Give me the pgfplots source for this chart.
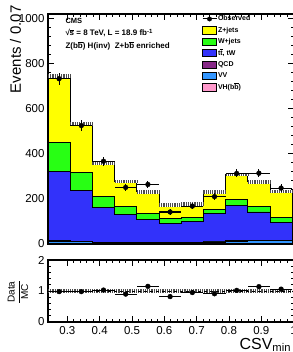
\documentclass[border=0pt]{standalone}
\usepackage{fontspec}
\setmainfont{Liberation Sans}
\usepackage{pgfplots}
\pgfplotsset{compat=1.18}
\usepackage{pgfplotstable}

\definecolor{zjets}{RGB}{255,255,0}
\definecolor{wjets}{RGB}{40,255,20}
\definecolor{ttbar}{RGB}{50,50,250}
\definecolor{qcd}{RGB}{135,40,135}
\definecolor{vv}{RGB}{50,150,255}
\definecolor{vh}{RGB}{255,153,204}

\newcommand{\bbar}{$\overline{\mbox{b}}$}
\newcommand{\tbar}{$\overline{\mbox{t}}$}

% cumulative stack tops, left bin edges (last row = right edge)
\pgfplotstableread{
x      vh  vv  qcd tt  w   z
0.2400 1   13  15  323 450 745
0.3087 1   11  13  239 318 533
0.3774 1   6   8   164 210 357
0.4461 1   5   7   129 166 277
0.5148 1   5   6   110 136 231
0.5835 1   5   6   92  114 174
0.6522 1   6   7   98  117 178
0.7209 1   9   10  134 154 231
0.7896 1   13  14  172 198 308
0.8583 1   14  15  142 166 276
0.9270 1   16  17  95  117 233
0.9957 1   16  17  95  117 233
}\stack

\pgfplotstableread{
x       y   ex      ey  r    er
0.27435 733 0.03435 27  0.98 0.036
0.34305 525 0.03435 23  0.98 0.043
0.41175 367 0.03435 19  1.03 0.053
0.48045 251 0.03435 16  0.90 0.058
0.54915 264 0.03435 16  1.15 0.069
0.61785 142 0.03435 12  0.82 0.069
0.68655 168 0.03435 13  0.95 0.073
0.75525 210 0.03435 14  0.91 0.063
0.82395 313 0.03435 18  1.02 0.058
0.89265 314 0.03435 18  1.14 0.065
0.96135 248 0.03435 16  1.06 0.069
}\obs

\pgfplotsset{
  cms/.style={
    scale only axis, width=245.6pt,
    xmin=0.24, xmax=1.0,
    clip mode=individual,
    xtick={0.3,0.4,0.5,0.6,0.7,0.8,0.9,1.0},
    minor x tick num=4,
    tick align=inside, major tick length=6pt, minor tick length=3pt,
    every tick/.style={black, line width=0.8pt},
    axis line style={line width=1.1pt},
    /pgf/number format/assume math mode=true,
    /pgf/number format/1000 sep={},
    ticklabel style={font=\fontsize{11.5}{12}\selectfont},
  },
  stk/.style={const plot, draw=black, line width=0.9pt},
}

\begin{document}
\begin{tikzpicture}
\begin{axis}[cms, name=main, at={(0pt,0pt)}, anchor=north west,
  height=230pt, ymin=0, ymax=1020,
  xticklabels={},
  ytick={0,200,400,600,800,1000}, minor y tick num=4,
  legend style={at={(0,1)}, anchor=north west, xshift=154pt, yshift=-0.5pt,
    draw=none, fill=none, inner sep=0pt, outer sep=0pt,
    font=\fontsize{7}{8}\selectfont\bfseries, row sep=2.4pt,
    nodes={inner sep=1pt, text height=5.5pt, text depth=1.5pt}},
  legend cell align=left,
  legend image code/.code={\draw[#1, draw=black, line width=0.8pt] (0pt,-3.6pt) rectangle (14pt,3.6pt);},
]
\addlegendimage{legend image code/.code={\draw[black, line width=1pt] (0pt,0pt) -- (14pt,0pt); \fill[black] (7pt,0pt) circle (2.2pt);}}
\addlegendentry{Observed}
\addplot[stk, fill=zjets] table[x=x, y=z]{\stack} \closedcycle;
\addlegendentry{Z+jets}
\addplot[stk, fill=wjets] table[x=x, y=w]{\stack} \closedcycle;
\addlegendentry{W+jets}
\addplot[stk, fill=ttbar] table[x=x, y=tt]{\stack} \closedcycle;
\addlegendentry{t\tbar, tW}
\addplot[stk, fill=qcd] table[x=x, y=qcd]{\stack} \closedcycle;
\addlegendentry{QCD}
\addplot[stk, fill=vv] table[x=x, y=vv]{\stack} \closedcycle;
\addlegendentry{VV}
\addplot[stk, fill=vh] table[x=x, y=vh]{\stack} \closedcycle;
\addlegendentry{VH(b\bbar)}
% uncertainty band on total
\addplot[forget plot, jump mark left, white, line width=3.6pt] table[x=x, y=z]{\stack};
\addplot[forget plot, jump mark left, black!70, line width=3.6pt, dash pattern=on 1.1pt off 1.1pt] table[x=x, y=z]{\stack};
% observed
\addplot[forget plot, only marks, mark=*, mark size=2.4pt, black,
  error bars/.cd, x dir=both, x explicit, y dir=both, y explicit,
  error mark=none, error bar style={line width=1.1pt}]
  table[x=x, y=y, x error=ex, y error=ey]{\obs};
\node[anchor=base west, font=\fontsize{7.5}{9}\selectfont\bfseries] at ([shift={(14pt,-9.3pt)}]rel axis cs:0,1) {CMS};
\node[anchor=base west, font=\fontsize{8}{9}\selectfont\bfseries] at ([shift={(14pt,-22pt)}]rel axis cs:0,1) {√\kern-0.2pt$\overline{\mbox{s}}$ = 8 TeV, L = 18.9 fb\textsuperscript{-1}};
\node[anchor=base west, font=\fontsize{8}{9}\selectfont\bfseries] at ([shift={(14pt,-35pt)}]rel axis cs:0,1) {Z(b\bbar) H(inv)\ \ Z+b\bbar\ enriched};
\node[rotate=90, anchor=base east, font=\fontsize{15}{16}\selectfont] at ([shift={(-27pt,12pt)}]rel axis cs:0,1) {Events / 0.07};
\end{axis}

\begin{axis}[cms, name=ratio, at={(0pt,-246pt)}, anchor=north west,
  height=62pt, ymin=0, ymax=2,
  ytick={0,1,2}, minor y tick num=4,
  xticklabel style={yshift=-1pt},
]
\addplot[jump mark left, white, line width=3.4pt] coordinates {(0.24,1) (0.9957,1)};
\addplot[jump mark left, black!70, line width=3.4pt, dash pattern=on 1.1pt off 1.1pt] coordinates {(0.24,1) (0.9957,1)};
\addplot[black, dashed, line width=0.6pt] coordinates {(0.24,1) (1.0,1)};
\addplot[only marks, mark=*, mark size=2.4pt, black,
  error bars/.cd, x dir=both, x explicit, y dir=both, y explicit,
  error mark=none, error bar style={line width=1.1pt}]
  table[x=x, y=r, x error=ex, y error=er]{\obs};
\node[rotate=90, anchor=center, font=\fontsize{10}{10}\selectfont] at ([shift={(-30pt,-1pt)}]rel axis cs:0,0.5) {$\displaystyle\frac{\mbox{Data}}{\mbox{MC}}$};
\node[anchor=base west, font=\fontsize{16}{17}\selectfont] at ([shift={(188pt,-27pt)}]rel axis cs:0,0) {CSV\textsubscript{min}};
\end{axis}
\pgfresetboundingbox
\path[use as bounding box] (-48pt,14pt) rectangle (244pt,-338pt);
\end{tikzpicture}
\end{document}
